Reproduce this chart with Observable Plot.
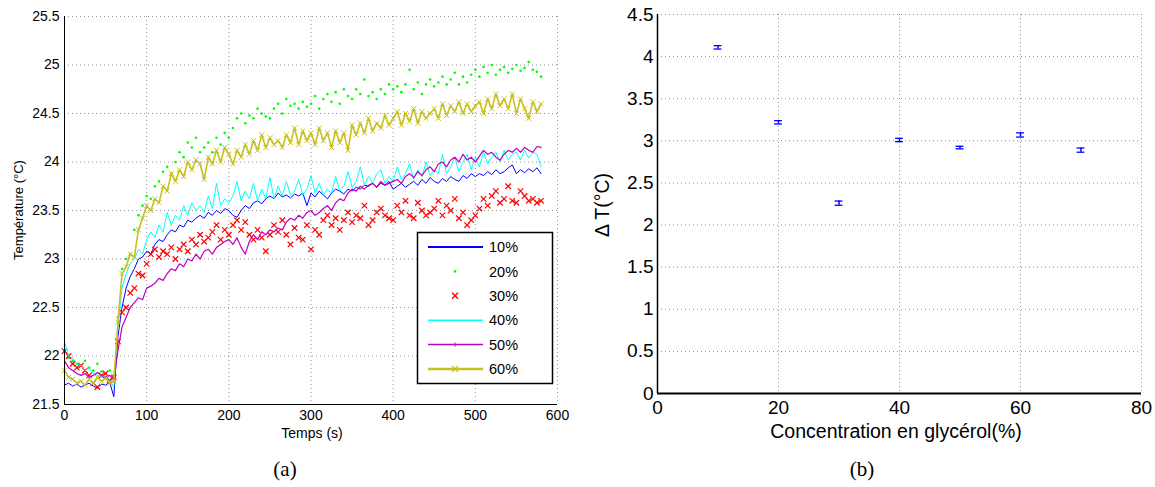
<!DOCTYPE html>
<html><head><meta charset="utf-8">
<script src="https://cdn.jsdelivr.net/npm/d3@7"></script>
<script src="https://cdn.jsdelivr.net/npm/@observablehq/plot@0.6"></script>
<style>
body{margin:0;background:#fff;}
#fig{position:relative;width:1155px;height:487px;font-family:"Liberation Sans",Arial,sans-serif;overflow:hidden;background:#fff;}
.abs{position:absolute;white-space:nowrap;line-height:1;}
svg{overflow:visible}
</style></head><body><div id="fig"></div>
<script>
// ---------- data (a): temperature vs time, sampled every 5 s ----------
const time = d3.range(0, 581, 5);
const s10 = [21.70,21.72,21.69,21.71,21.68,21.70,21.72,21.69,21.67,21.71,
21.70,21.73,21.58,22.20,22.50,22.70,22.82,22.90,23.00,23.02,
23.08,23.05,23.15,23.20,23.18,23.25,23.30,23.28,23.35,23.33,
23.40,23.38,23.42,23.45,23.42,23.48,23.45,23.50,23.47,23.52,
23.50,23.45,23.43,23.50,23.55,23.52,23.58,23.60,23.57,23.62,
23.65,23.62,23.68,23.64,23.66,23.63,23.67,23.65,23.68,23.55,
23.68,23.64,23.70,23.66,23.62,23.68,23.72,23.70,23.67,23.72,
23.70,23.74,23.72,23.76,23.75,23.78,23.74,23.78,23.76,23.80,
23.72,23.75,23.78,23.74,23.77,23.80,23.76,23.82,23.78,23.84,
23.80,23.78,23.83,23.80,23.85,23.82,23.80,23.86,23.83,23.88,
23.85,23.88,23.86,23.90,23.87,23.92,23.88,23.90,23.94,23.97,
23.88,23.92,23.89,23.93,23.90,23.94,23.88];
const s20 = [22.05,21.98,21.95,21.92,21.90,21.95,21.88,21.85,21.92,21.84,
21.82,21.85,21.80,22.40,22.90,23.00,23.05,23.30,23.45,23.55,
23.65,23.62,23.75,23.80,23.90,23.95,23.88,24.00,24.10,24.05,
24.20,24.15,24.25,24.10,24.15,24.20,24.10,24.25,24.18,24.30,
24.25,24.35,24.45,24.50,24.40,24.48,24.45,24.55,24.50,24.47,
24.45,24.55,24.60,24.50,24.65,24.58,24.60,24.55,24.62,24.57,
24.60,24.68,24.55,24.65,24.70,24.62,24.72,24.60,24.75,24.68,
24.65,24.75,24.70,24.85,24.68,24.72,24.65,24.75,24.70,24.80,
24.75,24.78,24.72,24.80,24.95,24.75,24.82,24.70,24.80,24.85,
24.78,24.82,24.88,24.80,24.85,24.92,24.80,24.88,24.82,24.90,
24.95,24.88,24.98,24.92,25.00,24.90,24.95,24.98,24.92,24.96,
25.00,24.94,24.97,25.03,24.95,24.93,24.88];
const s30 = [22.05,22.00,21.92,21.88,21.90,21.85,21.80,21.72,21.68,21.80,
21.82,21.75,21.78,22.15,22.45,22.50,22.65,22.70,22.85,22.83,
22.95,23.05,23.10,23.02,23.08,23.05,23.12,23.00,23.10,23.15,
23.08,23.20,23.15,23.25,23.18,23.22,23.28,23.35,23.20,23.30,
23.25,23.35,23.40,23.30,23.38,23.25,23.20,23.30,23.22,23.08,
23.25,23.35,23.28,23.40,23.25,23.15,23.32,23.22,23.20,23.35,
23.10,23.30,23.25,23.40,23.45,23.35,23.42,23.30,23.40,23.48,
23.38,23.45,23.42,23.55,23.35,23.40,23.48,23.52,23.45,23.42,
23.40,23.55,23.48,23.60,23.45,23.42,23.58,23.50,23.45,23.48,
23.52,23.60,23.45,23.55,23.50,23.62,23.42,23.48,23.35,23.40,
23.45,23.52,23.62,23.55,23.65,23.70,23.58,23.62,23.75,23.60,
23.58,23.70,23.65,23.60,23.62,23.58,23.60];
const s40 = [22.15,22.00,21.98,21.92,21.90,21.85,21.88,21.82,21.80,21.78,
21.80,21.75,21.68,22.30,22.70,22.85,22.95,23.00,23.10,23.05,
23.20,23.28,23.22,23.35,23.28,23.48,23.35,23.45,23.40,23.55,
23.45,23.58,23.50,23.55,23.48,23.65,23.52,23.78,23.55,23.62,
23.58,23.65,23.80,23.60,23.70,23.62,23.78,23.60,23.72,23.62,
23.84,23.62,23.75,23.65,23.80,23.66,23.70,23.82,23.66,23.72,
23.86,23.68,23.78,23.66,23.72,23.68,23.85,23.70,23.75,23.90,
23.74,23.80,23.95,23.76,23.85,23.78,23.88,23.92,23.78,23.85,
23.80,23.95,23.82,23.88,23.98,23.82,23.92,23.85,24.00,23.86,
23.92,23.88,24.08,23.88,23.95,24.05,23.90,24.00,24.08,23.92,
24.05,23.95,24.10,23.98,24.05,24.10,24.00,24.12,24.02,24.08,
24.10,24.02,24.12,24.04,24.10,24.08,23.95];
const s50 = [21.95,21.88,21.85,21.82,21.80,21.82,21.78,21.80,21.83,21.80,
21.78,21.80,21.76,22.05,22.30,22.40,22.50,22.55,22.60,22.58,
22.70,22.72,22.75,22.80,22.78,22.85,22.90,22.88,22.95,22.92,
23.00,22.98,23.05,23.00,23.08,23.10,23.05,23.12,23.15,23.18,
23.20,23.15,23.22,23.12,23.05,23.18,23.25,23.20,23.28,23.25,
23.30,23.28,23.32,23.30,23.38,23.42,23.40,23.45,23.42,23.48,
23.50,23.45,23.48,23.52,23.55,23.50,23.58,23.62,23.60,23.68,
23.72,23.70,23.75,23.72,23.76,23.78,23.74,23.80,23.76,23.78,
23.80,23.82,23.78,23.85,23.88,23.84,23.90,23.86,23.92,23.95,
23.90,23.98,24.00,23.95,24.02,24.05,24.00,24.08,24.02,24.05,
24.00,24.06,24.12,24.08,24.10,24.05,24.02,24.08,24.12,24.10,
24.14,24.10,24.15,24.12,24.10,24.16,24.15];
const s60 = [21.85,21.78,21.76,21.72,21.74,21.70,21.76,21.72,21.78,21.74,
21.77,21.72,21.74,22.35,22.85,22.92,23.05,23.02,23.30,23.42,
23.55,23.50,23.62,23.58,23.75,23.70,23.88,23.80,23.92,23.85,
24.00,23.92,24.02,23.98,23.82,24.05,23.98,24.12,24.00,24.15,
24.08,23.98,24.12,24.05,24.18,24.08,24.22,24.12,24.28,24.15,
24.25,24.18,24.22,24.15,24.28,24.20,24.35,24.18,24.32,24.22,
24.30,24.18,24.35,24.22,24.30,24.15,24.32,24.20,24.30,24.12,
24.38,24.28,24.40,24.30,24.45,24.32,24.40,24.35,24.48,24.38,
24.45,24.52,24.38,24.50,24.42,24.55,24.40,24.52,24.45,24.50,
24.55,24.45,24.60,24.48,24.58,24.52,24.62,24.50,24.60,24.52,
24.58,24.62,24.50,24.65,24.55,24.70,24.58,24.65,24.55,24.70,
24.50,24.65,24.55,24.45,24.62,24.52,24.60];
const seriesNames = ["10%","20%","30%","40%","50%","60%"];
const seriesColors = ["#0000ff","#00ff00","#ff0000","#00ffff","#bf00bf","#c8c020"];
const xTicksA = [0,100,200,300,400,500,600];
const yTicksA = [21.5,22,22.5,23,23.5,24,24.5,25,25.5];

// ---------- data (b): delta T vs glycerol concentration ----------
const conc = [10,20,30,40,50,60,70];
const deltaT = [4.11,3.22,2.26,3.01,2.92,3.07,2.89];
const deltaErr = [0.02,0.02,0.025,0.02,0.015,0.025,0.025];
const xTicksB = [0,20,40,60,80];
const yTicksB = [0,0.5,1,1.5,2,2.5,3,3.5,4,4.5];

const fig = document.getElementById("fig");
const FONT = "Liberation Sans, Arial, Helvetica, sans-serif";
const fmt = d => String(d);
const rows = vals => time.map((t, i) => ({t, v: vals[i]}));
const grid = {stroke: "#777", strokeOpacity: 0.8, strokeDasharray: "1,3", strokeWidth: 1};

// ---------- panel (a) ----------
const plotA = Plot.plot({
  width: 580, height: 440,
  marginLeft: 64, marginRight: 23, marginTop: 16, marginBottom: 36,
  style: {fontFamily: FONT, fontSize: "14px", background: "transparent", color: "#000"},
  x: {domain: [0, 600]},
  y: {domain: [21.5, 25.5]},
  marks: [
    Plot.gridX({ticks: xTicksA, ...grid}),
    Plot.gridY({ticks: yTicksA, ...grid}),
    Plot.line(rows(s10), {x: "t", y: "v", stroke: seriesColors[0], strokeWidth: 1}),
    Plot.dot(rows(s20), {x: "t", y: "v", r: 1.3, fill: seriesColors[1]}),
    Plot.dot(rows(s30), {x: "t", y: "v", symbol: "times", r: 2.6, stroke: seriesColors[2], strokeWidth: 1.2}),
    Plot.line(rows(s40), {x: "t", y: "v", stroke: seriesColors[3], strokeWidth: 1}),
    Plot.line(rows(s50), {x: "t", y: "v", stroke: seriesColors[4], strokeWidth: 1.2}),
    Plot.line(rows(s60), {x: "t", y: "v", stroke: seriesColors[5], strokeWidth: 1.6}),
    Plot.dot(rows(s60), {x: "t", y: "v", symbol: "times", r: 2.4, stroke: seriesColors[5], strokeWidth: 1}),
    Plot.ruleX([0], {stroke: "#000", strokeWidth: 1}),
    Plot.ruleY([21.5], {stroke: "#000", strokeWidth: 1}),
    Plot.axisX({ticks: xTicksA, tickSize: 0, tickPadding: 6, label: null, tickFormat: fmt}),
    Plot.axisY({ticks: yTicksA, tickSize: 0, tickPadding: 5, label: null, tickFormat: fmt})
  ]
});
plotA.style.position = "absolute"; plotA.style.left = "0px"; plotA.style.top = "0px";
fig.appendChild(plotA);

// legend for (a)
const leg = d3.select(fig).append("svg")
  .attr("width", 136).attr("height", 152)
  .style("position", "absolute").style("left", "417px").style("top", "232px");
leg.append("rect").attr("x", 0.5).attr("y", 0.5).attr("width", 135).attr("height", 151)
  .attr("fill", "#fff").attr("stroke", "#000").attr("stroke-width", 1.5);
seriesNames.forEach((name, i) => {
  const y = 15 + i * 24.4;
  const c = seriesColors[i];
  const g = leg.append("g");
  if (i === 0 || i === 3 || i === 4 || i === 5) {
    g.append("line").attr("x1", 11).attr("x2", 66).attr("y1", y).attr("y2", y)
      .attr("stroke", c).attr("stroke-width", i === 5 ? 2.5 : (i === 0 ? 2 : 1.5));
  }
  if (i === 1) g.append("circle").attr("cx", 38).attr("cy", y).attr("r", 1.3).attr("fill", c);
  if (i === 2 || i === 5) {
    g.append("path").attr("d", `M${35},${y - 3}L${41},${y + 3}M${35},${y + 3}L${41},${y - 3}`)
      .attr("stroke", c).attr("stroke-width", 1.3);
  }
  if (i === 4) g.append("line").attr("x1", 38).attr("x2", 38).attr("y1", y - 2).attr("y2", y + 2).attr("stroke", c);
  g.append("text").attr("x", 72).attr("y", y).attr("dy", "0.36em")
    .attr("font-family", FONT).attr("font-size", 14.5).text(name);
});

// ---------- panel (b) ----------
const pts = conc.map((c, i) => ({c, v: deltaT[i], e: deltaErr[i]}));
const blue = "#0000ff";
const plotB = Plot.plot({
  width: 555, height: 440,
  marginLeft: 57, marginRight: 14, marginTop: 14, marginBottom: 47,
  style: {fontFamily: FONT, fontSize: "19px", background: "transparent", color: "#000"},
  x: {domain: [0, 80]},
  y: {domain: [0, 4.5]},
  marks: [
    Plot.gridX({ticks: xTicksB, ...grid}),
    Plot.gridY({ticks: yTicksB, ...grid}),
    Plot.ruleX(pts, {x: "c", y1: d => d.v - d.e, y2: d => d.v + d.e, stroke: blue, strokeWidth: 1.5}),
    Plot.ruleY(pts, {y: d => d.v - d.e, x1: d => d.c - 0.65, x2: d => d.c + 0.65, stroke: blue, strokeWidth: 1.3}),
    Plot.ruleY(pts, {y: d => d.v + d.e, x1: d => d.c - 0.65, x2: d => d.c + 0.65, stroke: blue, strokeWidth: 1.3}),
    Plot.ruleX([0], {stroke: "#000", strokeWidth: 1.5}),
    Plot.ruleY([0], {stroke: "#000", strokeWidth: 2}),
    Plot.axisX({ticks: xTicksB, tickSize: 0, tickPadding: 7, label: null, tickFormat: fmt}),
    Plot.axisY({ticks: yTicksB, tickSize: 0, tickPadding: 4, label: null, tickFormat: fmt})
  ]
});
plotB.style.position = "absolute"; plotB.style.left = "600px"; plotB.style.top = "0px";
fig.appendChild(plotB);

// ---------- text labels ----------
function label(text, cx, cy, size, rotate, family) {
  const d = document.createElement("div");
  d.className = "abs";
  d.textContent = text;
  d.style.fontSize = size + "px";
  d.style.fontFamily = family || FONT;
  d.style.left = cx + "px"; d.style.top = cy + "px";
  d.style.transform = `translate(-50%,-50%)` + (rotate ? ` rotate(${rotate}deg)` : "");
  fig.appendChild(d);
}
label("Température (°C)", 18, 210, 13, -90);
label("Temps (s)", 312, 433, 14);
label("Concentration en glycérol(%)", 896, 432, 19.5);
label("Δ T(°C)", 603, 205, 19.5, -90);
label("(a)", 285, 469, 21, 0, "Liberation Serif, Times New Roman, serif");
label("(b)", 862, 469, 21, 0, "Liberation Serif, Times New Roman, serif");
</script></body></html>
